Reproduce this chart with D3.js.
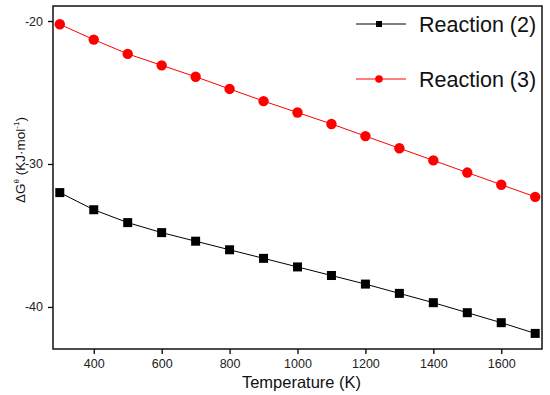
<!DOCTYPE html>
<html><head><meta charset="utf-8">
<script src="https://cdn.jsdelivr.net/npm/d3@7"></script>
<style>body{margin:0;background:#fff;} svg{display:block;font-family:"Liberation Sans",Arial,sans-serif;}</style>
</head><body>
<svg id="c" width="550" height="395"></svg>
<script>
const temperatures = [300,400,500,600,700,800,900,1000,1100,1200,1300,1400,1500,1600,1700];
const reaction2 = [-32.0,-33.2,-34.1,-34.8,-35.4,-36.0,-36.6,-37.2,-37.8,-38.4,-39.05,-39.7,-40.4,-41.1,-41.85];
const reaction3 = [-20.23,-21.3,-22.3,-23.1,-23.9,-24.75,-25.6,-26.4,-27.2,-28.05,-28.9,-29.75,-30.6,-31.45,-32.3];
const seriesNames = ["Reaction (2)","Reaction (3)"];
const xTicks = [400,600,800,1000,1200,1400,1600];
const yTicks = [-20,-30,-40];

const svg = d3.select("#c");
const L=53,T=6,R=542,B=349;
const x = d3.scaleLinear().domain([280,1720]).range([L,R]);
const y = d3.scaleLinear().domain([-42.94,-18.95]).range([B,T]);
const fmt = d => String(d);

svg.append("g").attr("transform",`translate(0,${B})`)
  .call(d3.axisBottom(x).tickValues(xTicks).tickSize(5).tickSizeOuter(0).tickPadding(5).tickFormat(fmt))
  .call(g=>{g.select(".domain").remove();g.selectAll("line").attr("stroke","#000").attr("stroke-width",1.3);
    g.selectAll("text").attr("font-size",12.5).attr("fill","#222").attr("font-family","Liberation Sans, Arial");});
svg.append("g").attr("transform",`translate(${L},0)`)
  .call(d3.axisLeft(y).tickValues(yTicks).tickSize(5).tickSizeOuter(0).tickPadding(5).tickFormat(fmt))
  .call(g=>{g.select(".domain").remove();g.selectAll("line").attr("stroke","#000").attr("stroke-width",1.3);
    g.selectAll("text").attr("font-size",12.5).attr("fill","#222").attr("font-family","Liberation Sans, Arial");});

svg.append("rect").attr("x",L).attr("y",T).attr("width",R-L).attr("height",B-T)
  .attr("fill","none").attr("stroke","#111").attr("stroke-width",1.5);

const line = d3.line().x((d,i)=>x(temperatures[i])).y(d=>y(d));
svg.append("path").datum(reaction2).attr("d",line).attr("fill","none").attr("stroke","#000").attr("stroke-width",1);
svg.append("path").datum(reaction3).attr("d",line).attr("fill","none").attr("stroke","#ff0000").attr("stroke-width",1);

svg.selectAll(".sq").data(reaction2).join("rect")
  .attr("x",(d,i)=>x(temperatures[i])-4.5).attr("y",d=>y(d)-4.5).attr("width",9).attr("height",9).attr("fill","#000");
svg.selectAll(".ci").data(reaction3).join("circle")
  .attr("cx",(d,i)=>x(temperatures[i])).attr("cy",d=>y(d)).attr("r",5.2).attr("fill","#ff0000");

// legend
const leg = svg.append("g");
const rows=[{n:seriesNames[0],c:"#000",y:24,m:"s"},{n:seriesNames[1],c:"#ff0000",y:79,m:"c"}];
rows.forEach(r=>{
  leg.append("line").attr("x1",356).attr("x2",406).attr("y1",r.y).attr("y2",r.y).attr("stroke",r.c).attr("stroke-width",1);
  if(r.m==="s") leg.append("rect").attr("x",376).attr("y",r.y-3).attr("width",6).attr("height",6).attr("fill",r.c);
  else leg.append("circle").attr("cx",379).attr("cy",r.y).attr("r",3.8).attr("fill",r.c);
  leg.append("text").attr("x",419).attr("y",r.y).attr("dy","0.35em").attr("font-size",21.5).attr("fill","#111").text(r.n);
});

svg.append("text").attr("x",(L+R)/2+4).attr("y",388).attr("text-anchor","middle").attr("font-size",16.5).attr("fill","#111").text("Temperature (K)");

const yt = svg.append("text").attr("transform","translate(25,160) rotate(-90)").attr("text-anchor","middle").attr("font-size",13.5).attr("fill","#111");
yt.append("tspan").text("ΔG");
yt.append("tspan").attr("dy",-6).attr("font-size",8).text("θ");
yt.append("tspan").attr("dy",6).text(" (KJ·mol");
yt.append("tspan").attr("dy",-6).attr("font-size",8).text("-1");
yt.append("tspan").attr("dy",6).text(")");
</script>
</body></html>
